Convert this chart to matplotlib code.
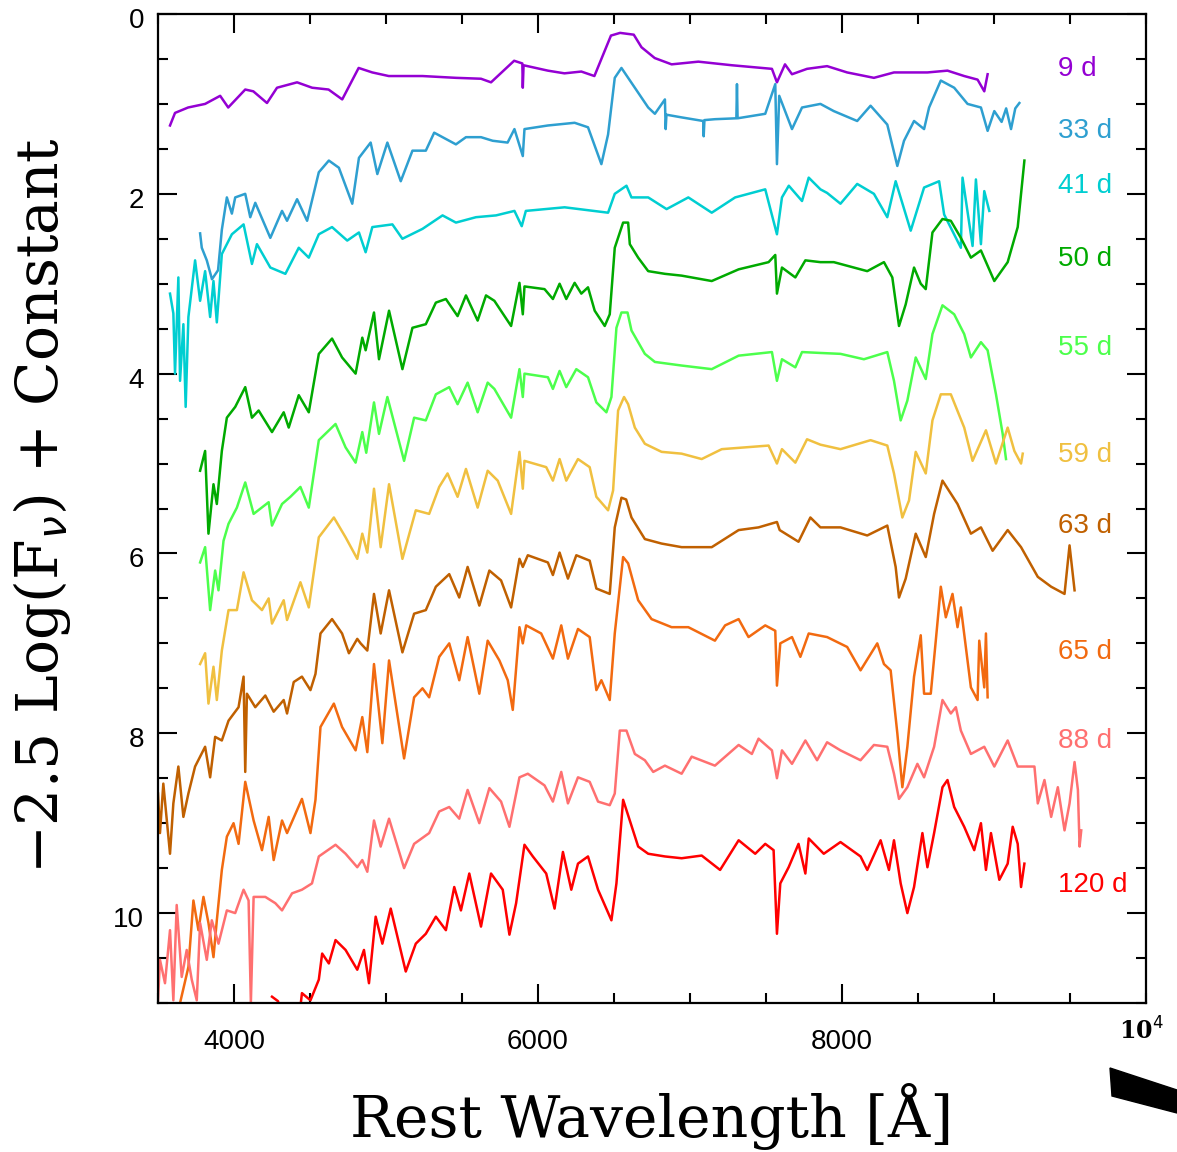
import numpy as np
import matplotlib
matplotlib.use("Agg")
import matplotlib.pyplot as plt
import matplotlib.transforms as mtransforms
from matplotlib.patches import Polygon

# spectra: (wavelength [A], -2.5 log F + const)
wave_9d = [3579, 3612, 3698, 3810, 3909, 3962, 4074, 4127, 4217, 4283, 4415, 4514, 4622, 4712, 4820, 4910, 5018, 5240,
           5460, 5625, 5691, 5843, 5897, 5900, 5905, 6065, 6174, 6285, 6371, 6480, 6540, 6630, 6681, 6768, 6879, 7055,
           7275, 7539, 7572, 7625, 7671, 7770, 7902, 8034, 8210, 8342, 8562, 8694, 8804, 8892, 8936, 8958]
mag_9d = [1.24, 1.10, 1.04, 1.00, 0.91, 1.04, 0.84, 0.86, 0.99, 0.82, 0.76, 0.82, 0.84, 0.95, 0.60, 0.65, 0.69, 0.69,
          0.71, 0.72, 0.76, 0.52, 0.55, 0.82, 0.57, 0.63, 0.66, 0.64, 0.69, 0.24, 0.21, 0.23, 0.37, 0.49, 0.56, 0.53,
          0.57, 0.61, 0.76, 0.56, 0.67, 0.61, 0.58, 0.65, 0.71, 0.65, 0.65, 0.63, 0.69, 0.73, 0.86, 0.67]

wave_33d = [3777, 3788, 3821, 3855, 3895, 3920, 3953, 3986, 4008, 4074, 4107, 4140, 4239, 4316, 4349, 4415, 4481, 4558,
            4624, 4690, 4778, 4822, 4899, 4943, 5009, 5097, 5174, 5262, 5317, 5460, 5526, 5625, 5702, 5800, 5845, 5900,
            5911, 6065, 6241, 6329, 6417, 6461, 6505, 6549, 6637, 6725, 6769, 6835, 6840, 6845, 6945, 7087, 7090, 7095,
            7164, 7305, 7309, 7313, 7495, 7561, 7572, 7587, 7671, 7737, 7858, 7946, 8100, 8188, 8298, 8364, 8408, 8474,
            8540, 8573, 8650, 8738, 8826, 8914, 8958, 9002, 9050, 9080, 9112, 9140, 9167]
mag_33d = [2.44, 2.60, 2.74, 2.95, 2.85, 2.40, 2.04, 2.22, 2.04, 2.00, 2.26, 2.10, 2.49, 2.19, 2.30, 2.06, 2.30, 1.76,
           1.63, 1.71, 2.11, 1.60, 1.43, 1.78, 1.43, 1.86, 1.52, 1.52, 1.32, 1.45, 1.37, 1.37, 1.41, 1.43, 1.28, 1.58,
           1.28, 1.24, 1.21, 1.26, 1.67, 1.34, 0.71, 0.60, 0.82, 1.04, 1.11, 0.95, 1.28, 1.12, 1.15, 1.19, 1.36, 1.18,
           1.17, 1.16, 0.78, 1.16, 1.11, 0.78, 1.67, 0.91, 1.28, 1.04, 1.00, 1.08, 1.19, 1.02, 1.23, 1.69, 1.41, 1.19,
           1.28, 1.04, 0.74, 0.82, 1.00, 1.04, 1.30, 1.08, 1.20, 1.05, 1.28, 1.05, 0.99]

wave_41d = [3579, 3601, 3612, 3634, 3645, 3667, 3682, 3700, 3744, 3777, 3810, 3843, 3865, 3887, 3920, 3986, 4063, 4118,
            4151, 4239, 4338, 4426, 4492, 4558, 4645, 4745, 4822, 4866, 4910, 5042, 5108, 5240, 5372, 5460, 5592, 5724,
            5845, 5893, 5920, 6175, 6461, 6505, 6582, 6615, 6725, 6846, 6989, 7143, 7297, 7495, 7572, 7605, 7650, 7737,
            7781, 7858, 7902, 7990, 8100, 8210, 8298, 8353, 8452, 8540, 8639, 8672, 8782, 8793, 8859, 8881, 8914, 8936,
            8969]
mag_41d = [3.11, 3.33, 4.00, 2.93, 4.08, 3.45, 4.37, 3.37, 2.74, 3.19, 2.86, 3.37, 2.97, 3.43, 2.67, 2.45, 2.34, 2.78,
           2.56, 2.82, 2.89, 2.60, 2.71, 2.45, 2.37, 2.52, 2.43, 2.65, 2.37, 2.34, 2.50, 2.39, 2.24, 2.32, 2.26, 2.24,
           2.19, 2.36, 2.19, 2.15, 2.21, 2.00, 1.91, 2.04, 2.04, 2.17, 2.04, 2.21, 2.04, 1.95, 2.45, 2.04, 1.91, 2.08,
           1.82, 1.95, 1.99, 2.11, 1.89, 2.00, 2.26, 1.86, 2.41, 1.93, 1.86, 2.23, 2.60, 1.82, 2.58, 1.84, 2.56, 1.97,
           2.19]

wave_50d = [3777, 3810, 3832, 3865, 3887, 3920, 3953, 4008, 4074, 4118, 4162, 4250, 4327, 4360, 4426, 4492, 4558, 4645,
            4711, 4800, 4844, 4866, 4921, 4954, 5020, 5108, 5174, 5262, 5328, 5394, 5471, 5526, 5603, 5658, 5713, 5823,
            5878, 5900, 5911, 6043, 6098, 6142, 6186, 6241, 6285, 6329, 6373, 6439, 6472, 6505, 6560, 6593, 6604, 6659,
            6725, 6835, 6945, 7143, 7320, 7517, 7561, 7572, 7605, 7693, 7759, 7858, 7946, 8166, 8276, 8331, 8375, 8419,
            8474, 8518, 8551, 8595, 8661, 8716, 8782, 8848, 8914, 9002, 9090, 9156, 9200]
mag_50d = [5.08, 4.86, 5.78, 5.23, 5.45, 4.86, 4.49, 4.37, 4.15, 4.49, 4.41, 4.65, 4.43, 4.60, 4.24, 4.43, 3.78, 3.61,
           3.82, 4.00, 3.60, 3.74, 3.32, 3.84, 3.30, 3.95, 3.49, 3.45, 3.21, 3.17, 3.36, 3.13, 3.41, 3.13, 3.19, 3.47,
           2.99, 3.34, 3.03, 3.06, 3.17, 3.00, 3.17, 2.99, 3.11, 3.04, 3.30, 3.47, 3.34, 2.60, 2.32, 2.32, 2.56, 2.71,
           2.86, 2.89, 2.91, 2.97, 2.84, 2.76, 2.68, 3.11, 2.82, 2.93, 2.74, 2.76, 2.76, 2.86, 2.76, 2.93, 3.47, 3.23,
           2.82, 3.00, 3.06, 2.43, 2.28, 2.30, 2.49, 2.71, 2.63, 2.97, 2.76, 2.37, 1.63]

wave_55d = [3777, 3810, 3843, 3876, 3898, 3931, 3964, 4019, 4074, 4129, 4228, 4250, 4316, 4371, 4437, 4492, 4558, 4668,
            4734, 4800, 4844, 4870, 4921, 4954, 5009, 5119, 5185, 5262, 5328, 5416, 5471, 5537, 5603, 5669, 5713, 5823,
            5878, 5900, 5911, 6065, 6098, 6142, 6186, 6252, 6329, 6384, 6450, 6483, 6516, 6549, 6589, 6615, 6703, 6769,
            6945, 7143, 7320, 7539, 7572, 7605, 7693, 7737, 7858, 7990, 8144, 8298, 8342, 8386, 8430, 8485, 8551, 8595,
            8661, 8738, 8804, 8848, 8914, 8958, 9013, 9057, 9079]
mag_55d = [6.10, 5.93, 6.63, 6.19, 6.41, 5.86, 5.67, 5.49, 5.21, 5.56, 5.43, 5.69, 5.45, 5.37, 5.26, 5.49, 4.74, 4.56,
           4.82, 4.99, 4.65, 4.88, 4.32, 4.67, 4.26, 4.97, 4.49, 4.52, 4.23, 4.15, 4.34, 4.10, 4.43, 4.10, 4.17, 4.49,
           3.95, 4.26, 4.00, 4.04, 4.17, 3.97, 4.15, 3.95, 4.04, 4.32, 4.43, 4.26, 3.49, 3.32, 3.32, 3.52, 3.78, 3.87,
           3.91, 3.95, 3.80, 3.76, 4.08, 3.84, 3.93, 3.76, 3.77, 3.78, 3.84, 3.76, 4.08, 4.52, 4.30, 3.82, 4.06, 3.56,
           3.24, 3.34, 3.56, 3.82, 3.65, 3.74, 4.23, 4.67, 4.95]

wave_59d = [3777, 3810, 3832, 3865, 3887, 3920, 3964, 4019, 4063, 4118, 4184, 4228, 4250, 4327, 4349, 4437, 4492, 4558,
            4657, 4734, 4811, 4844, 4877, 4921, 4965, 5020, 5108, 5196, 5284, 5350, 5405, 5471, 5526, 5603, 5669, 5735,
            5823, 5878, 5900, 5911, 6054, 6098, 6142, 6186, 6263, 6340, 6384, 6461, 6494, 6527, 6566, 6593, 6637, 6703,
            6813, 6945, 7077, 7209, 7363, 7517, 7572, 7605, 7693, 7770, 7858, 7990, 8188, 8298, 8342, 8397, 8441, 8485,
            8551, 8595, 8650, 8716, 8804, 8859, 8947, 9013, 9090, 9134, 9178, 9189]
mag_59d = [7.23, 7.11, 7.67, 7.26, 7.63, 7.08, 6.63, 6.63, 6.21, 6.52, 6.63, 6.50, 6.78, 6.52, 6.74, 6.32, 6.60, 5.82,
           5.60, 5.82, 6.06, 5.78, 5.99, 5.28, 5.93, 5.23, 6.06, 5.52, 5.56, 5.26, 5.11, 5.37, 5.06, 5.49, 5.08, 5.19,
           5.56, 4.87, 5.28, 4.97, 5.04, 5.19, 4.95, 5.19, 4.95, 5.04, 5.37, 5.52, 5.30, 4.41, 4.26, 4.34, 4.60, 4.78,
           4.87, 4.89, 4.95, 4.84, 4.82, 4.80, 5.00, 4.84, 4.99, 4.73, 4.79, 4.84, 4.74, 4.80, 5.11, 5.60, 5.41, 4.87,
           5.11, 4.52, 4.23, 4.23, 4.60, 4.97, 4.63, 5.00, 4.60, 4.86, 5.00, 4.89]

wave_63d = [3500, 3513, 3535, 3579, 3601, 3634, 3667, 3700, 3744, 3810, 3843, 3876, 3920, 3964, 4030, 4063, 4074, 4085,
            4140, 4206, 4261, 4327, 4349, 4393, 4447, 4503, 4536, 4569, 4645, 4711, 4756, 4811, 4833, 4877, 4921, 4965,
            5020, 5108, 5185, 5262, 5328, 5416, 5482, 5537, 5614, 5680, 5757, 5823, 5878, 5900, 5933, 6065, 6098, 6142,
            6197, 6252, 6340, 6384, 6472, 6505, 6549, 6580, 6615, 6703, 6813, 6945, 7143, 7320, 7451, 7572, 7590, 7714,
            7792, 7858, 7990, 8166, 8298, 8353, 8375, 8419, 8485, 8551, 8606, 8661, 8760, 8848, 8914, 8991, 9090, 9178,
            9288, 9376, 9464, 9497, 9530]
mag_63d = [8.67, 9.11, 8.56, 9.34, 8.78, 8.37, 8.93, 8.67, 8.37, 8.15, 8.49, 8.04, 8.08, 7.86, 7.71, 7.37, 8.43, 7.56,
           7.71, 7.58, 7.76, 7.63, 7.78, 7.43, 7.37, 7.52, 7.34, 6.89, 6.73, 6.89, 7.11, 6.95, 7.00, 7.08, 6.45, 6.89,
           6.41, 7.10, 6.67, 6.63, 6.37, 6.23, 6.49, 6.15, 6.58, 6.19, 6.30, 6.60, 6.06, 6.15, 6.02, 6.10, 6.24, 5.99,
           6.28, 6.02, 6.08, 6.39, 6.45, 5.71, 5.38, 5.40, 5.60, 5.84, 5.89, 5.93, 5.93, 5.74, 5.71, 5.65, 5.74, 5.87,
           5.60, 5.71, 5.71, 5.80, 5.69, 6.15, 6.49, 6.28, 5.78, 6.04, 5.56, 5.19, 5.45, 5.78, 5.71, 5.97, 5.74, 5.93,
           6.26, 6.37, 6.45, 5.91, 6.41]

wave_65d = [3645, 3700, 3733, 3766, 3799, 3832, 3865, 3887, 3920, 3953, 3997, 4030, 4074, 4129, 4184, 4228, 4261, 4316,
            4349, 4447, 4503, 4536, 4569, 4657, 4711, 4800, 4844, 4877, 4921, 4976, 5020, 5119, 5185, 5240, 5284, 5350,
            5416, 5482, 5537, 5614, 5669, 5746, 5801, 5834, 5878, 5900, 5922, 6021, 6098, 6153, 6197, 6263, 6340, 6384,
            6417, 6472, 6505, 6560, 6593, 6659, 6747, 6879, 6989, 7164, 7231, 7320, 7385, 7495, 7561, 7572, 7594, 7671,
            7726, 7781, 7902, 8034, 8122, 8232, 8276, 8320, 8364, 8397, 8430, 8474, 8518, 8540, 8584, 8617, 8650, 8683,
            8727, 8760, 8782, 8848, 8892, 8903, 8936, 8947, 8958]
mag_65d = [11.0, 10.6, 9.86, 10.19, 9.82, 10.11, 10.49, 10.08, 9.52, 9.15, 9.00, 9.23, 8.54, 8.97, 9.30, 8.93, 9.41,
           8.97, 9.11, 8.73, 9.11, 8.74, 7.93, 7.67, 7.93, 8.19, 7.82, 8.21, 7.23, 8.11, 7.19, 8.28, 7.60, 7.50, 7.60,
           7.15, 7.00, 7.41, 6.93, 7.56, 6.97, 7.19, 7.41, 7.74, 6.82, 7.00, 6.80, 6.89, 7.17, 6.80, 7.17, 6.84, 6.93,
           7.52, 7.41, 7.63, 6.89, 6.04, 6.11, 6.52, 6.73, 6.82, 6.82, 6.97, 6.80, 6.73, 6.93, 6.80, 6.86, 7.47, 7.00,
           6.93, 7.15, 6.89, 6.93, 7.04, 7.30, 7.00, 7.23, 7.30, 8.00, 8.60, 8.15, 7.37, 6.91, 7.56, 7.56, 6.97, 6.37,
           6.71, 6.45, 6.82, 6.60, 7.49, 7.63, 6.97, 7.49, 6.89, 7.60]

wave_88d = [3500, 3513, 3546, 3579, 3601, 3623, 3656, 3689, 3722, 3755, 3777, 3821, 3854, 3898, 3953, 4008, 4063, 4096,
            4111, 4129, 4206, 4272, 4316, 4382, 4447, 4513, 4558, 4668, 4734, 4811, 4844, 4877, 4921, 4965, 5020, 5119,
            5185, 5284, 5350, 5416, 5482, 5537, 5614, 5680, 5757, 5812, 5878, 5933, 6043, 6098, 6153, 6197, 6263, 6340,
            6395, 6472, 6505, 6538, 6582, 6637, 6703, 6758, 6835, 6945, 7011, 7164, 7320, 7407, 7451, 7539, 7572, 7605,
            7671, 7759, 7836, 7902, 7990, 8122, 8210, 8298, 8342, 8375, 8430, 8496, 8540, 8606, 8661, 8716, 8749, 8782,
            8848, 8936, 9002, 9090, 9156, 9266, 9288, 9332, 9376, 9420, 9464, 9497, 9530, 9552, 9563, 9574]
mag_88d = [10.97, 10.52, 10.78, 10.19, 10.97, 9.91, 10.71, 10.41, 10.74, 10.97, 10.11, 10.52, 10.08, 10.34, 9.97, 10.00,
           9.74, 9.86, 11.0, 9.82, 9.82, 9.89, 9.97, 9.78, 9.74, 9.67, 9.37, 9.24, 9.34, 9.49, 9.41, 9.54, 8.97, 9.26,
           8.95, 9.50, 9.23, 9.11, 8.87, 8.82, 8.95, 8.63, 9.00, 8.61, 8.76, 9.04, 8.49, 8.45, 8.58, 8.76, 8.43, 8.78,
           8.49, 8.54, 8.76, 8.80, 8.67, 7.97, 7.97, 8.23, 8.30, 8.43, 8.36, 8.45, 8.26, 8.36, 8.13, 8.23, 8.06, 8.19,
           8.50, 8.19, 8.34, 8.08, 8.30, 8.10, 8.19, 8.30, 8.13, 8.15, 8.45, 8.73, 8.60, 8.34, 8.49, 8.15, 7.63, 7.78,
           7.71, 7.97, 8.23, 8.15, 8.37, 8.08, 8.37, 8.37, 8.78, 8.52, 8.93, 8.60, 9.08, 8.78, 8.32, 8.63, 9.26, 9.08]

wave_120d = [4250, 4290, 4320, 4420, 4447, 4503, 4558, 4580, 4624, 4668, 4734, 4811, 4855, 4888, 4932, 4976, 5031, 5130,
             5196, 5262, 5328, 5394, 5449, 5493, 5548, 5625, 5691, 5768, 5812, 5856, 5911, 5966, 6054, 6109, 6164, 6219,
             6263, 6329, 6395, 6483, 6516, 6560, 6604, 6659, 6725, 6835, 6945, 7077, 7198, 7320, 7429, 7495, 7550, 7572,
             7594, 7649, 7714, 7759, 7781, 7880, 7990, 8122, 8166, 8254, 8309, 8342, 8386, 8430, 8474, 8529, 8562, 8606,
             8661, 8694, 8738, 8804, 8870, 8914, 8947, 8980, 9035, 9090, 9123, 9156, 9178, 9200]
mag_120d = [10.93, 10.98, 11.4, 11.3, 10.89, 10.97, 10.74, 10.45, 10.56, 10.30, 10.41, 10.63, 10.41, 10.78, 10.04, 10.34,
            9.95, 10.65, 10.34, 10.23, 10.04, 10.19, 9.71, 9.97, 9.56, 10.15, 9.56, 9.74, 10.24, 9.89, 9.24, 9.37, 9.56,
            9.95, 9.32, 9.74, 9.45, 9.37, 9.74, 10.08, 9.67, 8.74, 8.97, 9.26, 9.34, 9.37, 9.39, 9.36, 9.52, 9.19, 9.34,
            9.23, 9.30, 10.23, 9.67, 9.49, 9.23, 9.56, 9.17, 9.34, 9.21, 9.37, 9.52, 9.19, 9.52, 9.19, 9.67, 10.00, 9.71,
            9.11, 9.49, 9.11, 8.60, 8.52, 8.82, 9.04, 9.30, 9.00, 9.52, 9.11, 9.63, 9.45, 9.04, 9.23, 9.71, 9.45]

labels = ["9 d", "33 d", "41 d", "50 d", "55 d", "59 d", "63 d", "65 d", "88 d", "120 d"]
label_mag = [0.61, 1.30, 1.91, 2.72, 3.71, 4.91, 5.70, 7.10, 8.09, 9.69]
colors = ["#9400D3", "#2E9FD0", "#00CED1", "#00AA00", "#4CFF4C",
          "#F0C040", "#C06000", "#F26A10", "#FF7070", "#FF0000"]

spectra = [(wave_9d, mag_9d), (wave_33d, mag_33d), (wave_41d, mag_41d), (wave_50d, mag_50d),
           (wave_55d, mag_55d), (wave_59d, mag_59d), (wave_63d, mag_63d), (wave_65d, mag_65d),
           (wave_88d, mag_88d), (wave_120d, mag_120d)]

W, H = 1177, 1152
fig = plt.figure(figsize=(W / 100, H / 100), dpi=100)
ax = fig.add_axes([158 / W, 1 - 1003 / H, 988 / W, 989 / H])

for (w, m), c in zip(spectra, colors):
    ax.plot(w, m, color=c, lw=1.8)

for lab, ym, c in zip(labels, label_mag, colors):
    ax.text(9420, ym, lab, color=c, fontsize=20, family="Liberation Sans", ha="left", va="center")

ax.set_xlim(3500, 10000)
ax.set_ylim(11, 0)

ax.set_xticks([4000, 6000, 8000])
ax.set_xticks(np.arange(3500, 10001, 500), minor=True)
ax.set_yticks([0, 2, 4, 6, 8, 10])
ax.set_yticks(np.arange(0, 11.01, 0.5), minor=True)
ax.tick_params(which="both", direction="in", top=True, right=True, width=1.5)
ax.tick_params(which="major", length=14)
ax.tick_params(which="minor", length=7)
ax.tick_params(axis="x", which="major", pad=19, labelsize=20)
ax.tick_params(axis="y", which="major", pad=10, labelsize=20)
for t in ax.get_xticklabels() + ax.get_yticklabels():
    t.set_family("Liberation Sans")
# y labels sit a few pixels below their ticks in the original
shift = mtransforms.ScaledTranslation(0, -4 / 100, fig.dpi_scale_trans)
for t in ax.get_yticklabels():
    t.set_transform(t.get_transform() + shift)
for s in ax.spines.values():
    s.set_linewidth(1.6)

# axis titles
fig.text(652 / W, 1 - 1117 / H, "Rest Wavelength [Å]", family="DejaVu Serif", fontsize=42,
         ha="center", va="center")
fig.text(42 / W, 1 - 506 / H, r"$-$2.5 Log(F$_\nu$) + Constant", family="DejaVu Serif", fontsize=42,
         rotation=90, ha="center", va="center")

# stray corner marks in the original image
fig.text(1141 / W, 1 - 1031 / H, r"10$^4$", family="DejaVu Serif", fontweight="bold",
         fontsize=17, ha="center", va="center")
fig.patches.append(Polygon([[1110 / W, 1 - 1068 / H], [1.0, 1 - 1090 / H],
                            [1.0, 1 - 1113 / H], [1112 / W, 1 - 1096 / H]],
                           closed=True, transform=fig.transFigure, color="black"))

fig.savefig("out.png", dpi=100)
